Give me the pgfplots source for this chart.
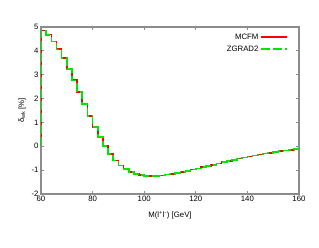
\documentclass[border=0pt]{standalone}
\usepackage{pgfplots}
\pgfplotsset{compat=1.18}
\usepackage{fontspec}
\setmainfont{Liberation Sans}
\definecolor{gpred}{RGB}{255,0,0}
\definecolor{gpgreen}{RGB}{0,230,0}
\definecolor{frame}{RGB}{140,140,140}
\pgfplotstableread{
x y
60 0
60 4.85
62 4.68
64 4.40
66 4.07
68 3.69
70 3.24
72 2.77
74 2.28
76 1.76
78 1.27
80 0.81
82 0.38
84 0.01
86 -0.32
88 -0.60
90 -0.81
92 -0.96
94 -1.08
96 -1.16
98 -1.21
100 -1.24
102 -1.25
104 -1.24
106 -1.22
108 -1.19
110 -1.16
112 -1.12
114 -1.08
116 -1.03
118 -0.98
120 -0.93
122 -0.88
124 -0.83
126 -0.78
128 -0.72
130 -0.67
132 -0.62
134 -0.57
136 -0.52
138 -0.47
140 -0.43
142 -0.39
144 -0.35
146 -0.31
148 -0.27
150 -0.24
152 -0.21
154 -0.18
156 -0.15
158 -0.12
160 -0.12
}\mcfm
\pgfplotstableread{
x y
60 0
60 4.85
62 4.67
64 4.40
66 4.06
68 3.69
70 3.23
72 2.76
74 2.28
76 1.76
78 1.27
80 0.81
82 0.38
84 0.01
86 -0.32
88 -0.60
90 -0.81
92 -0.96
94 -1.08
96 -1.16
98 -1.21
100 -1.24
102 -1.25
104 -1.24
106 -1.22
108 -1.19
110 -1.16
112 -1.12
114 -1.08
116 -1.03
118 -0.98
120 -0.93
122 -0.88
124 -0.83
126 -0.78
128 -0.72
130 -0.67
132 -0.62
134 -0.57
136 -0.52
138 -0.47
140 -0.43
142 -0.39
144 -0.35
146 -0.31
148 -0.27
150 -0.24
152 -0.21
154 -0.18
156 -0.15
158 -0.12
160 -0.12
}\zgrad
\begin{document}
\begin{tikzpicture}[x=1pt,y=1pt]
\begin{axis}[
  at={(0,0)}, anchor=south west,
  scale only axis, width=258pt, height=167pt,
  xmin=60, xmax=160, ymin=-2, ymax=5,
  xtick={60,80,...,160}, ytick={-2,-1,...,5},
  tick align=inside, major tick length=3pt,
  axis line style={frame, line width=1.3pt},
  every tick/.style={frame, line width=0.8pt},
  font=\fontsize{7.8}{9}\selectfont,
  /pgf/number format/assume math mode=true,
  xlabel={M(l\textsuperscript{+}l\textsuperscript{-}) [GeV]},
  ylabel={δ\textsubscript{wk} [\%]},
  xlabel style={at={(axis description cs:0.5,0)}, anchor=center, yshift=-21pt},
  ylabel style={at={(axis description cs:0,0.5)}, anchor=center, rotate=0, xshift=0pt, yshift=19pt},
  xticklabel style={yshift=1pt},
  yticklabel style={xshift=1pt},
  legend style={draw=none, fill=none, at={(rel axis cs:0.97,0.985)}, anchor=north east,
     legend plot pos=right, row sep=1pt, font=\fontsize{7.8}{9}\selectfont,
     cells={anchor=east}},
  legend image code/.code={\draw[#1] (0pt,0pt) -- (26pt,0pt);},
]
\addplot[const plot, color=gpred, line width=1.6pt] table[x=x,y=y] {\mcfm};
\addlegendentry{MCFM}
\addplot[const plot, color=gpgreen, line width=1.6pt, dash pattern=on 9pt off 3pt] table[x=x,y=y] {\zgrad};
\addlegendentry{ZGRAD2}
\end{axis}
\path[use as bounding box] (-41pt,-53pt) rectangle (278pt,194pt);
\end{tikzpicture}
\end{document}
